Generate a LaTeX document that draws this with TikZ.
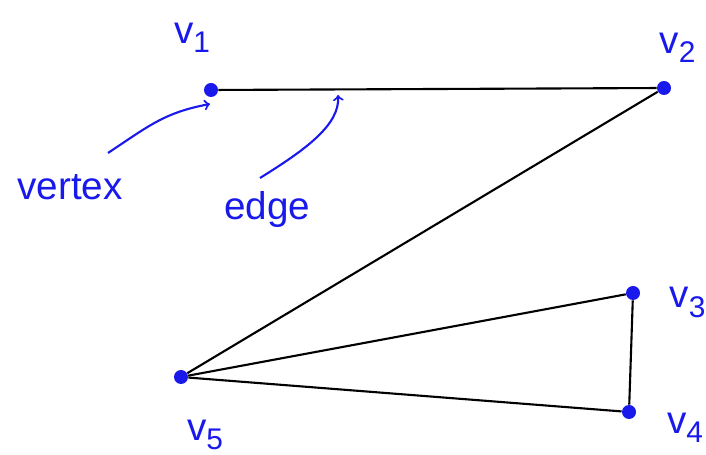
\documentclass[tikz,border=0pt]{standalone}
\usepackage{fontspec}
\setmainfont{Liberation Sans}
\definecolor{ink}{RGB}{25,25,235}
\newcommand{\vname}[1]{v\raisebox{-0.45ex}{\fontsize{17}{20}\selectfont #1}}
\tikzset{
  vtx/.style={circle, fill=ink, inner sep=0pt, minimum size=0.28cm},
  lbl/.style={text=ink, font=\fontsize{22}{26}\selectfont},
  edgeline/.style={line width=1.2pt, black},
  pointer/.style={->, ink, line width=1.2pt}
}
\begin{document}
\begin{tikzpicture}
    \useasboundingbox (0,0) rectangle (14.12,9.10);

    % Vertices
    \node[vtx] (v1) at (4.22, 7.30) {};
    \node[vtx] (v2) at (13.28, 7.34) {};
    \node[vtx] (v3) at (12.66, 3.24) {};
    \node[vtx] (v4) at (12.58, 0.86) {};
    \node[vtx] (v5) at (3.62, 1.56) {};

    % Vertex labels
    \node[lbl] (l1) at (3.84, 8.35) {\vname{1}};
    \node[lbl] (l2) at (13.55, 8.15) {\vname{2}};
    \node[lbl] (l3) at (13.75, 3.05) {\vname{3}};
    \node[lbl] (l4) at (13.70, 0.55) {\vname{4}};
    \node[lbl] (l5) at (4.10, 0.40) {\vname{5}};

    % Edges
    \draw[edgeline] (v1) -- (v2);
    \draw[edgeline] (v2) -- (v5);
    \draw[edgeline] (v5) -- (v3);
    \draw[edgeline] (v3) -- (v4);
    \draw[edgeline] (v4) -- (v5);

    % Annotations
    \node[lbl] (vertex) at (1.40, 5.35) {vertex};
    \node[lbl] (edge) at (5.35, 4.90) {edge};
    \coordinate (vtail) at (2.16, 6.04);
    \coordinate (vhead) at (4.20, 7.02);
    \coordinate (etail) at (5.20, 5.54);
    \coordinate (ehead) at (6.76, 7.20);
    \draw[pointer] (vtail) .. controls (3.00, 6.60) and (3.30, 6.85) .. (vhead);
    \draw[pointer] (etail) .. controls (6.10, 6.10) and (6.80, 6.60) .. (ehead);
\end{tikzpicture}
\end{document}
